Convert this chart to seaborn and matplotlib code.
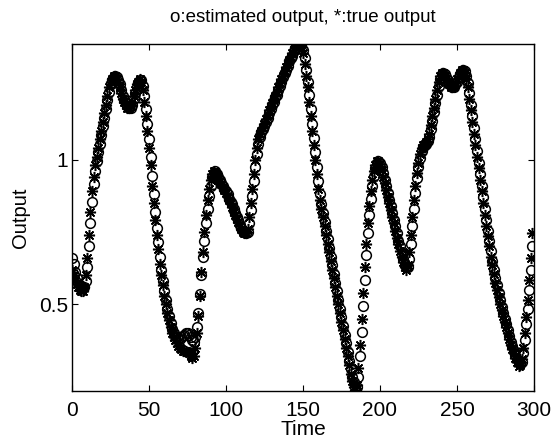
import numpy as np
import matplotlib
matplotlib.use("Agg")
import matplotlib.pyplot as plt
import seaborn as sns
import pandas as pd

time = list(range(0, 300))

true_output = [
    0.62, 0.60, 0.585, 0.57, 0.56, 0.55, 0.545, 0.545, 0.56, 0.60,
    0.66, 0.74, 0.82, 0.89, 0.94, 0.98, 1.01, 1.04, 1.07, 1.10,
    1.13, 1.16, 1.19, 1.22, 1.25, 1.27, 1.28, 1.29, 1.29, 1.28,
    1.27, 1.25, 1.23, 1.21, 1.20, 1.19, 1.18, 1.18, 1.185, 1.20,
    1.22, 1.24, 1.26, 1.27, 1.28, 1.27, 1.24, 1.20, 1.15, 1.10,
    1.04, 0.98, 0.91, 0.85, 0.79, 0.74, 0.69, 0.64, 0.60, 0.565,
    0.53, 0.50, 0.47, 0.445, 0.42, 0.40, 0.385, 0.375, 0.365, 0.355,
    0.35, 0.345, 0.34, 0.34, 0.34, 0.335, 0.33, 0.32, 0.315, 0.32,
    0.35, 0.40, 0.46, 0.53, 0.61, 0.68, 0.75, 0.81, 0.86, 0.90,
    0.93, 0.95, 0.96, 0.955, 0.945, 0.935, 0.925, 0.915, 0.905, 0.895,
    0.885, 0.87, 0.86, 0.85, 0.835, 0.82, 0.81, 0.795, 0.785, 0.77,
    0.76, 0.75, 0.745, 0.745, 0.76, 0.80, 0.85, 0.90, 0.95, 1.00,
    1.04, 1.07, 1.09, 1.10, 1.11, 1.125, 1.14, 1.155, 1.17, 1.18,
    1.195, 1.21, 1.22, 1.235, 1.25, 1.265, 1.28, 1.29, 1.305, 1.32,
    1.33, 1.345, 1.355, 1.37, 1.38, 1.39, 1.395, 1.40, 1.40, 1.39,
    1.37, 1.33, 1.29, 1.25, 1.20, 1.15, 1.10, 1.05, 1.00, 0.95,
    0.90, 0.86, 0.83, 0.80, 0.77, 0.74, 0.71, 0.68, 0.65, 0.62,
    0.59, 0.56, 0.53, 0.50, 0.47, 0.44, 0.41, 0.38, 0.35, 0.32,
    0.29, 0.26, 0.235, 0.215, 0.205, 0.22, 0.28, 0.36, 0.45, 0.54,
    0.63, 0.71, 0.78, 0.84, 0.89, 0.93, 0.96, 0.98, 0.995, 0.995,
    0.985, 0.965, 0.94, 0.92, 0.895, 0.87, 0.85, 0.825, 0.80, 0.78,
    0.755, 0.73, 0.71, 0.685, 0.665, 0.645, 0.63, 0.62, 0.635, 0.68,
    0.74, 0.80, 0.86, 0.91, 0.955, 0.99, 1.02, 1.04, 1.05, 1.055,
    1.06, 1.07, 1.09, 1.12, 1.15, 1.18, 1.21, 1.24, 1.27, 1.29,
    1.30, 1.30, 1.29, 1.28, 1.27, 1.26, 1.25, 1.25, 1.255, 1.265,
    1.28, 1.29, 1.30, 1.31, 1.31, 1.30, 1.28, 1.25, 1.21, 1.17,
    1.13, 1.09, 1.05, 1.01, 0.97, 0.93, 0.89, 0.85, 0.81, 0.77,
    0.735, 0.70, 0.665, 0.635, 0.605, 0.575, 0.55, 0.525, 0.50, 0.48,
    0.46, 0.44, 0.42, 0.40, 0.38, 0.36, 0.345, 0.33, 0.315, 0.30,
    0.285, 0.29, 0.31, 0.35, 0.40, 0.455, 0.515, 0.585, 0.66, 0.745,
]

estimated_output = [
    0.66, 0.64, 0.61, 0.59, 0.575, 0.565, 0.56, 0.555, 0.56, 0.58,
    0.63, 0.70, 0.78, 0.855, 0.915, 0.96, 0.995, 1.025, 1.055, 1.085,
    1.115, 1.145, 1.175, 1.205, 1.235, 1.26, 1.275, 1.285, 1.29, 1.285,
    1.275, 1.26, 1.24, 1.22, 1.205, 1.195, 1.185, 1.18, 1.18, 1.19,
    1.21, 1.23, 1.25, 1.265, 1.275, 1.275, 1.255, 1.22, 1.175, 1.125,
    1.07, 1.01, 0.945, 0.88, 0.82, 0.765, 0.715, 0.665, 0.62, 0.58,
    0.545, 0.515, 0.485, 0.46, 0.435, 0.415, 0.40, 0.39, 0.385, 0.38,
    0.38, 0.385, 0.39, 0.395, 0.40, 0.40, 0.395, 0.385, 0.375, 0.37,
    0.385, 0.42, 0.47, 0.535, 0.60, 0.665, 0.72, 0.78, 0.83, 0.875,
    0.91, 0.94, 0.955, 0.96, 0.95, 0.94, 0.93, 0.92, 0.91, 0.90,
    0.89, 0.88, 0.865, 0.855, 0.845, 0.83, 0.815, 0.80, 0.79, 0.775,
    0.765, 0.755, 0.75, 0.745, 0.75, 0.78, 0.825, 0.875, 0.925, 0.975,
    1.02, 1.055, 1.08, 1.095, 1.105, 1.115, 1.13, 1.145, 1.16, 1.175,
    1.19, 1.20, 1.215, 1.225, 1.24, 1.255, 1.27, 1.285, 1.30, 1.31,
    1.325, 1.34, 1.35, 1.36, 1.375, 1.385, 1.39, 1.395, 1.40, 1.395,
    1.38, 1.35, 1.31, 1.27, 1.225, 1.175, 1.125, 1.075, 1.025, 0.975,
    0.925, 0.88, 0.845, 0.815, 0.785, 0.755, 0.725, 0.695, 0.665, 0.635,
    0.605, 0.575, 0.545, 0.515, 0.485, 0.455, 0.425, 0.395, 0.365, 0.335,
    0.305, 0.275, 0.25, 0.23, 0.215, 0.215, 0.25, 0.32, 0.405, 0.495,
    0.585, 0.67, 0.745, 0.81, 0.865, 0.91, 0.945, 0.97, 0.985, 0.995,
    0.99, 0.975, 0.955, 0.93, 0.91, 0.885, 0.86, 0.84, 0.815, 0.79,
    0.77, 0.745, 0.72, 0.70, 0.675, 0.655, 0.64, 0.63, 0.63, 0.655,
    0.71, 0.77, 0.83, 0.885, 0.935, 0.975, 1.005, 1.03, 1.045, 1.05,
    1.055, 1.065, 1.08, 1.105, 1.135, 1.165, 1.195, 1.225, 1.255, 1.28,
    1.295, 1.30, 1.295, 1.285, 1.275, 1.265, 1.255, 1.25, 1.25, 1.26,
    1.27, 1.285, 1.295, 1.305, 1.31, 1.305, 1.29, 1.265, 1.23, 1.19,
    1.15, 1.11, 1.07, 1.03, 0.99, 0.95, 0.91, 0.87, 0.83, 0.79,
    0.755, 0.72, 0.685, 0.65, 0.62, 0.59, 0.565, 0.54, 0.515, 0.49,
    0.47, 0.45, 0.43, 0.41, 0.39, 0.37, 0.355, 0.34, 0.325, 0.31,
    0.30, 0.295, 0.30, 0.33, 0.375, 0.43, 0.485, 0.55, 0.62, 0.70,
]

x_ticks = [0, 50, 100, 150, 200, 250, 300]
y_ticks = [0.5, 1.0]
y_tick_labels = ["0.5", "1"]

title_text = "o:estimated output, *:true output"
x_label = "Time"
y_label = "Output"

sns.set_theme(style="white")
plt.rcParams["font.family"] = ["Liberation Sans", "DejaVu Sans"]

df = pd.DataFrame({"Time": time, "est": estimated_output, "true": true_output})

fig = plt.figure(figsize=(5.51, 4.43), dpi=100)
ax = fig.add_axes([0.1307, 0.1174, 0.9691 - 0.1307, 0.9007 - 0.1174])

sns.lineplot(data=df, x="Time", y="est", ax=ax, linestyle="", marker="o",
             markersize=7, markerfacecolor="none", markeredgecolor="black",
             markeredgewidth=1.1, color="black")
sns.lineplot(data=df, x="Time", y="true", ax=ax, linestyle="", marker=(8, 2, 0),
             markersize=8, markeredgecolor="black", markeredgewidth=1.1,
             color="black")

ax.set_xlim(0, 300)
ax.set_ylim(0.2, 1.4)
ax.set_xticks(x_ticks)
ax.set_xticklabels([str(v) for v in x_ticks])
ax.set_yticks(y_ticks)
ax.set_yticklabels(y_tick_labels)
ax.tick_params(axis="both", which="both", direction="in", length=4, width=0.8,
               top=True, right=True, bottom=True, left=True, labelsize=15,
               colors="black")
ax.tick_params(axis="x", pad=7)
ax.tick_params(axis="y", pad=3)
for s in ax.spines.values():
    s.set_visible(True)
    s.set_color("black")
    s.set_linewidth(1.0)

ax.set_title(title_text, fontsize=13.5, color="black", pad=16)
ax.set_xlabel(x_label, fontsize=15, color="black", labelpad=0)
ax.set_ylabel(y_label, fontsize=14.5, color="black", labelpad=6)

fig.savefig("out.png", dpi=100, facecolor="white")
